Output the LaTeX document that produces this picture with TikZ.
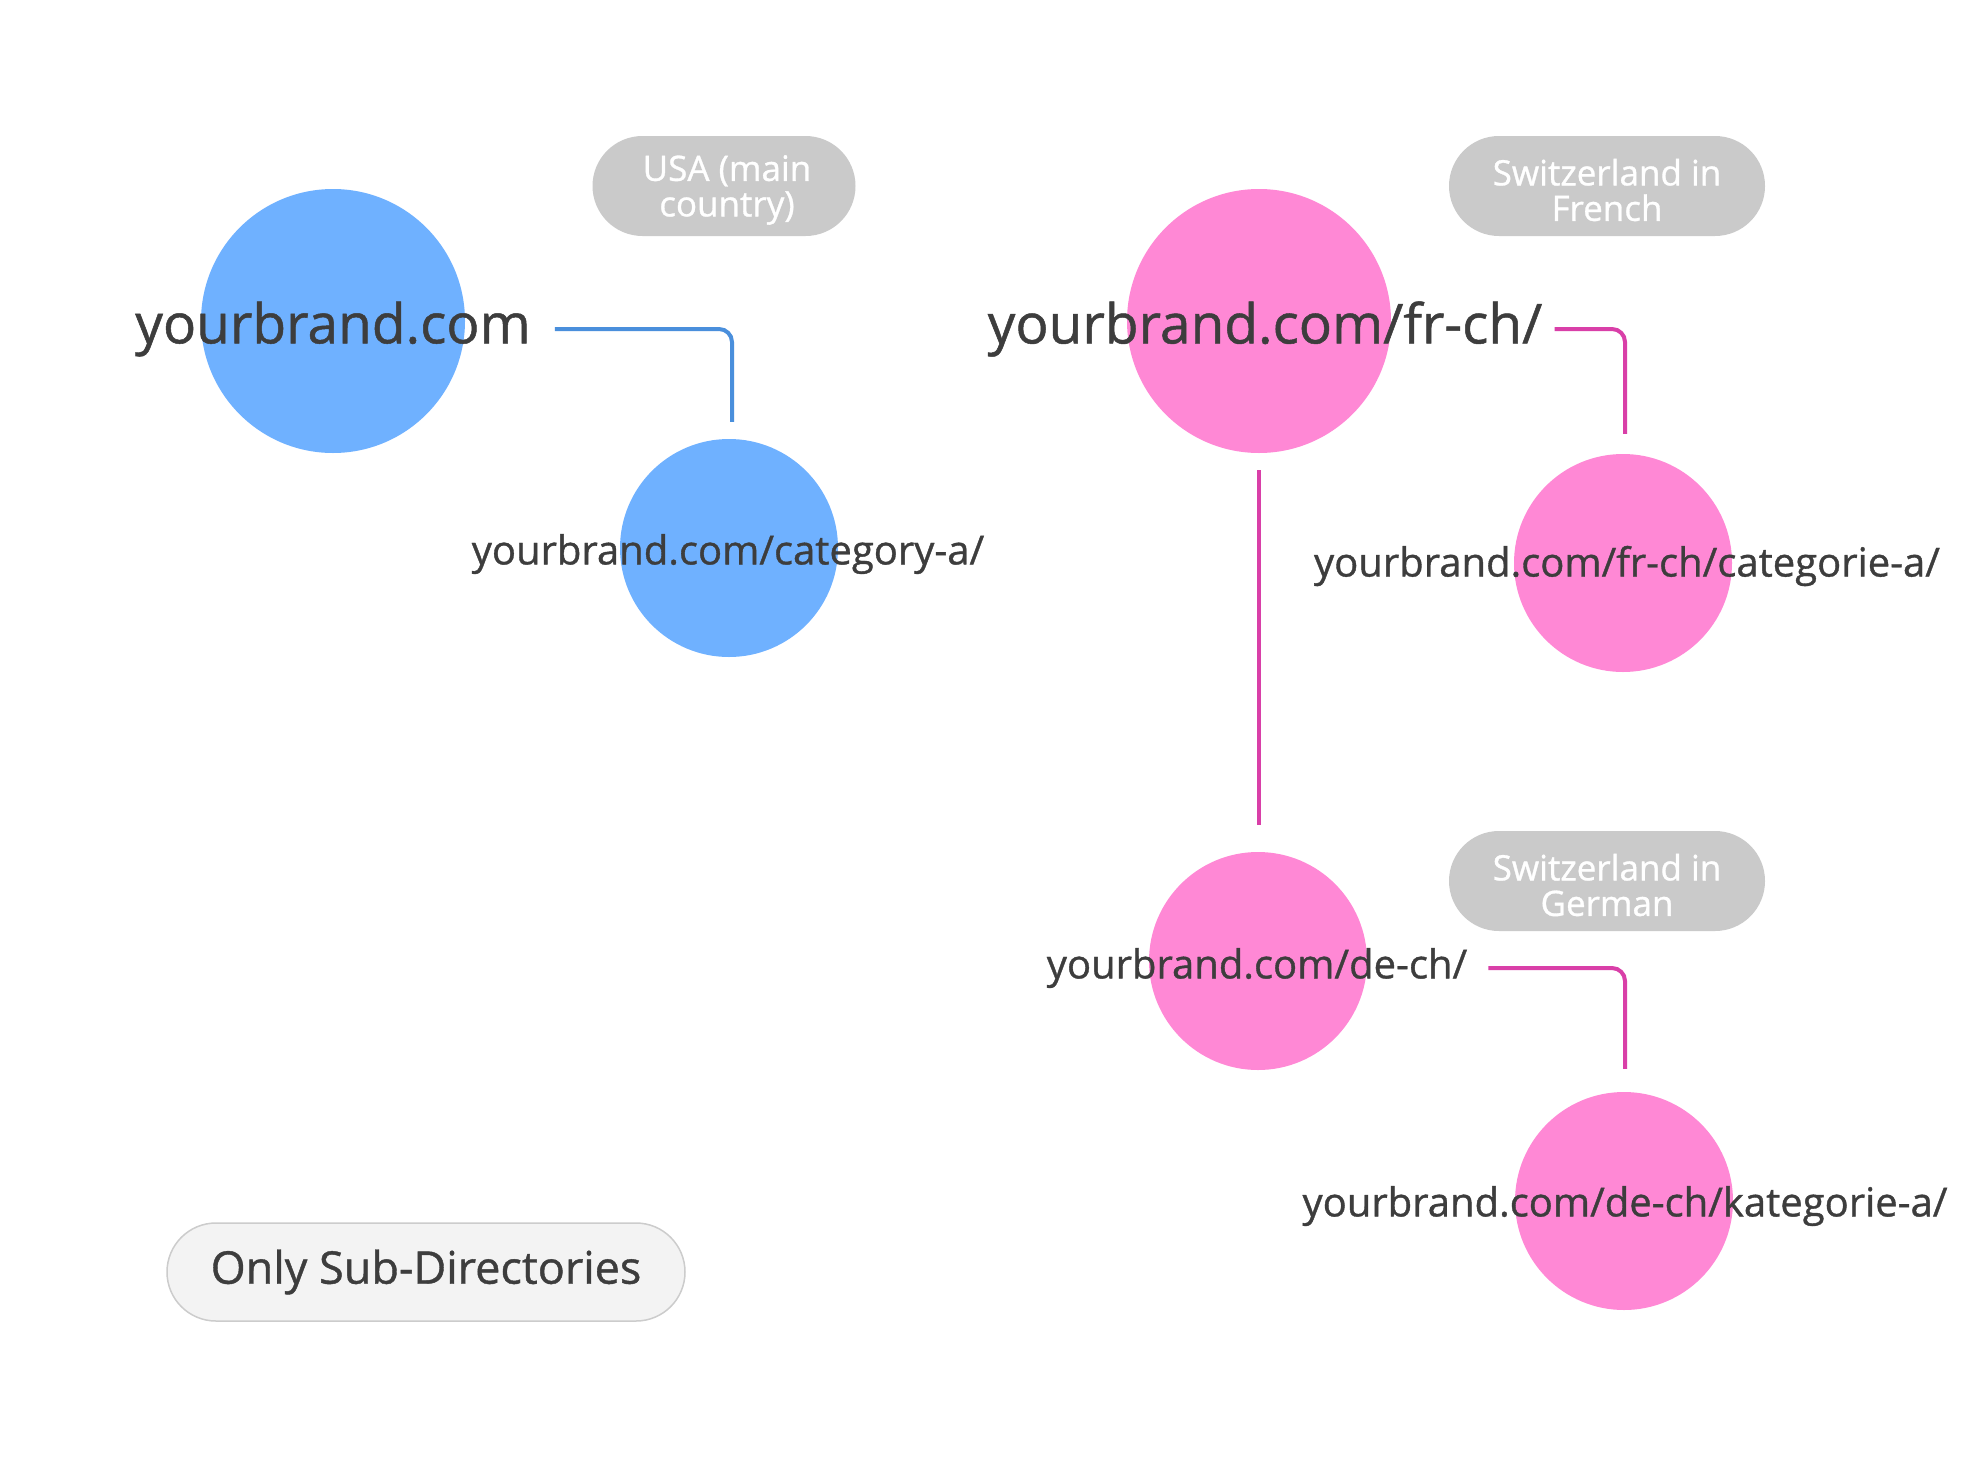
\documentclass[tikz,border=0pt]{standalone}
\usepackage{fontspec}
\setmainfont{Open Sans}[FakeBold=0.9]
\usetikzlibrary{calc}
\definecolor{bluefill}{HTML}{6FB1FF}
\definecolor{blueline}{HTML}{4A8FDC}
\definecolor{pinkfill}{HTML}{FF88D5}
\definecolor{pinkline}{HTML}{D93FA8}
\definecolor{bubblegray}{HTML}{CACACA}
\definecolor{txt}{HTML}{3D3D3D}
\definecolor{notefill}{HTML}{F3F3F3}
\definecolor{noteline}{HTML}{CCCCCC}
\begin{document}
\begin{tikzpicture}[x=1pt,y=-1pt,
  bigdot/.style={circle,fill=#1,draw=none,minimum size=264pt,inner sep=0},
  smalldot/.style={circle,fill=#1,draw=none,minimum size=218pt,inner sep=0},
  bigtxt/.style={text=txt,inner sep=0,font=\fontsize{55}{60}\selectfont},
  smalltxt/.style={text=txt,inner sep=0,font=\fontsize{40}{46}\selectfont},
  bubble/.style={rounded corners=50pt,fill=bubblegray,draw=none,minimum width=263pt,minimum height=100pt,inner sep=0},
  bubbletxt/.style={text=white,align=center,inner sep=0,font=\fontsize{35}{35.5}\selectfont},
  link/.style={line width=4pt,rounded corners=13pt,#1},
]
\fill[white] (0,0) rectangle (1988,1480);
\useasboundingbox (0,0) rectangle (1988,1480);

% blue tree
\node[bigdot=bluefill] (c1) at (333,321) {};
\node[bigtxt] (t1) at (333,329) {yourbrand.com};
\node[smalldot=bluefill] (c2) at (729,548) {};
\node[smalltxt] (t2) at (728,554) {yourbrand.com/category-a/};
\node[bubble,minimum width=263pt] (b1) at (724,186) {};
\node[bubbletxt] (b1t) at ($(b1)+(3,4)$) {USA (main\\country)};
\draw[link=blueline] ($(t1.east)+(24,0)$) -| ($(c2.north)+(3,-17)$);

% pink tree
\node[bigdot=pinkfill] (c3) at (1259,321) {};
\node[bigtxt] (t3) at (1265,329) {yourbrand.com/fr-ch/};
\node[smalldot=pinkfill] (c4) at (1623,563) {};
\node[smalltxt] (t4) at (1627,566) {yourbrand.com/fr-ch/categorie-a/};
\node[bubble,minimum width=316pt] (b2) at (1607,186) {};
\node[bubbletxt] (b2t) at ($(b2)+(0,4)$) {Switzerland in\\French};
\draw[link=pinkline] ($(t3.east)+(12,0)$) -| ($(c4.north)+(2,-20)$);

\node[smalldot=pinkfill] (c5) at (1258,961) {};
\node[smalltxt] (t5) at (1257,968) {yourbrand.com/de-ch/};
\node[bubble,minimum width=316pt] (b3) at (1607,881) {};
\node[bubbletxt] (b3t) at ($(b3)+(0,4)$) {Switzerland in\\German};
\draw[link=pinkline] (c3.south) ++(0,17) coordinate (p1) -- (p1 |- {$(c5.north)+(0,-27)$});

\node[smalldot=pinkfill] (c6) at (1624,1201) {};
\node[smalltxt] (t6) at (1625,1206) {yourbrand.com/de-ch/kategorie-a/};
\draw[link=pinkline] ($(t5.east)+(21,0)$) -| ($(c6.north)+(1,-23)$);

% note
\node[rounded corners=49pt,fill=notefill,draw=noteline,line width=1.5pt,minimum width=518pt,minimum height=98pt,inner sep=0,text=txt,font=\fontsize{45}{50}\selectfont] (n1) at (426,1272) {\raisebox{-5pt}{Only Sub-Directories}};
\end{tikzpicture}
\end{document}
